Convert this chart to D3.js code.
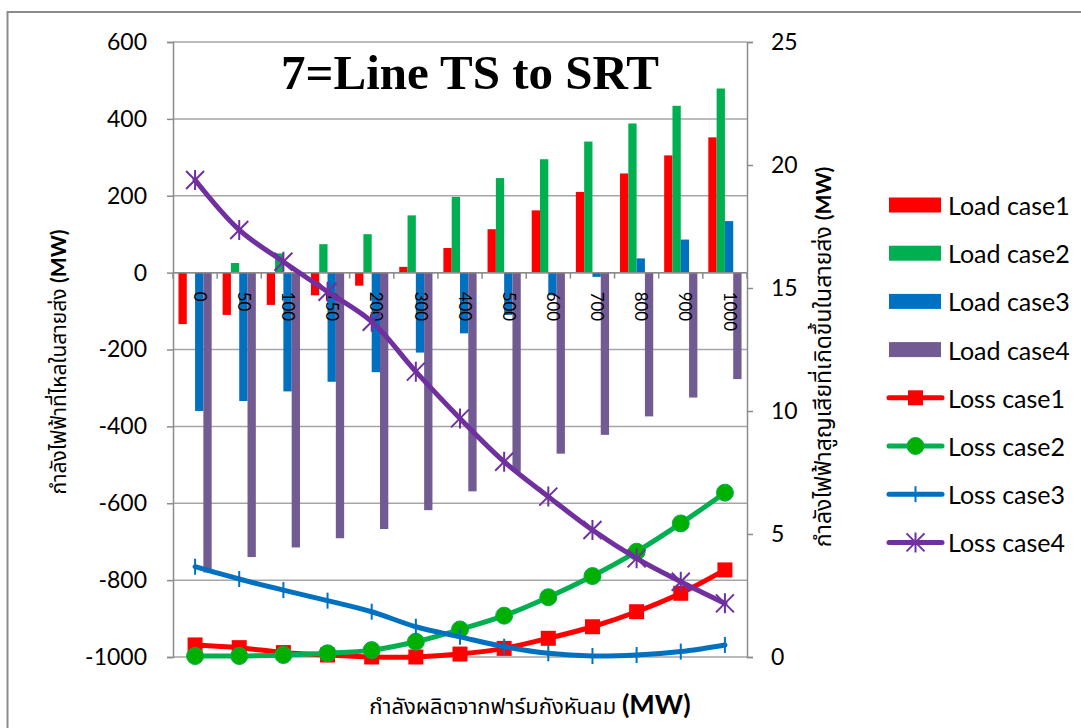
<!DOCTYPE html>
<html>
<head>
<meta charset="utf-8">
<script src="https://cdn.jsdelivr.net/npm/d3@7"></script>
<style>
  html, body { margin: 0; padding: 0; background: #fff; }
  svg { display: block; font-family: Lato, "Noto Sans", "Liberation Sans", sans-serif; }
</style>
</head>
<body>
<svg id="chart" width="1081" height="728"></svg>
<script>
// Wind-farm output (MW) along the category axis
const categories = ["0","50","100","150","200","300","400","500","600","700","800","900","1000"];

// Power flow in the line (MW), left axis
const loadCase1 = [-134,-110,-84,-59,-34,15,64,113,162,210,258,305,352];
const loadCase2 = [0,25,50,74,100,149,197,246,295,341,388,434,479];
const loadCase3 = [-360,-334,-309,-284,-259,-208,-158,-110,-59,-11,37,86,134];
const loadCase4 = [-780,-740,-715,-691,-667,-618,-569,-518,-471,-422,-374,-325,-277];

// Line losses (MW), right axis
const lossCase1 = [0.49,0.38,0.18,0.08,0.0,0.0,0.12,0.35,0.76,1.23,1.84,2.59,3.54];
const lossCase2 = [0.04,0.04,0.08,0.15,0.28,0.62,1.12,1.68,2.43,3.29,4.28,5.43,6.68];
const lossCase3 = [3.67,3.17,2.72,2.29,1.84,1.23,0.82,0.42,0.15,0.04,0.08,0.22,0.49];
const lossCase4 = [19.39,17.36,16.07,14.85,13.63,11.6,9.7,7.94,6.52,5.16,4.01,3.06,2.18];

const leftTicks = [600,400,200,0,-200,-400,-600,-800,-1000];
const rightTicks = [25,20,15,10,5,0];

const barSeries = [
  { name: "Load case1", values: loadCase1, color: "#FF0000" },
  { name: "Load case2", values: loadCase2, color: "#00B050" },
  { name: "Load case3", values: loadCase3, color: "#0070C0" },
  { name: "Load case4", values: loadCase4, color: "#725A93" }
];
const lineSeries = [
  { name: "Loss case1", values: lossCase1, color: "#FF0000", marker: "square" },
  { name: "Loss case2", values: lossCase2, color: "#00B050", marker: "circle" },
  { name: "Loss case3", values: lossCase3, color: "#0070C0", marker: "plus" },
  { name: "Loss case4", values: lossCase4, color: "#7030A0", marker: "star" }
];

const svg = d3.select("#chart");
const plot = { left: 173, right: 747, top: 42, bottom: 657 };
const gridColor = "#A6A6A6";
const axisColor = "#8C8C8C";
const sansFont = "Lato, 'Noto Sans', sans-serif";
const thaiFont = "'Noto Sans Thai', 'Noto Sans', Lato, sans-serif";

// outer frame of the chart object
svg.append("rect")
  .attr("x", 7.5).attr("y", 12).attr("width", 1200).attr("height", 800)
  .attr("fill", "none").attr("stroke", axisColor).attr("stroke-width", 2);

const x = d3.scaleBand().domain(categories).range([plot.left, plot.right]).padding(0);
const xs = d3.scaleBand().domain(barSeries.map(s => s.name))
  .range([0, x.bandwidth()]).paddingInner(0).paddingOuter(0.66);
const yL = d3.scaleLinear().domain([-1000, 600]).range([plot.bottom, plot.top]);
const yR = d3.scaleLinear().domain([0, 25]).range([plot.bottom, plot.top]);

// horizontal gridlines
svg.append("g").selectAll("line").data(leftTicks).join("line")
  .attr("x1", plot.left).attr("x2", plot.right)
  .attr("y1", d => yL(d)).attr("y2", d => yL(d))
  .attr("stroke", gridColor).attr("stroke-width", 1.5);

// left axis
const leftAxis = svg.append("g").attr("transform", `translate(${plot.left},0)`)
  .call(d3.axisLeft(yL).tickValues(leftTicks).tickFormat(d => String(d)).tickSize(6).tickPadding(20));
leftAxis.select(".domain").attr("stroke", axisColor).attr("stroke-width", 1.5);
leftAxis.selectAll(".tick line").attr("stroke", axisColor).attr("stroke-width", 1.5);
leftAxis.selectAll(".tick text").style("font-size", "23px").style("font-family", sansFont).attr("fill", "#000");

// right axis
const rightAxis = svg.append("g").attr("transform", `translate(${plot.right},0)`)
  .call(d3.axisRight(yR).tickValues(rightTicks).tickFormat(d => String(d)).tickSize(6).tickPadding(18));
rightAxis.select(".domain").attr("stroke", axisColor).attr("stroke-width", 1.5);
rightAxis.selectAll(".tick line").attr("stroke", axisColor).attr("stroke-width", 1.5);
rightAxis.selectAll(".tick text").style("font-size", "23px").style("font-family", sansFont).attr("fill", "#000");

// bars
const barG = svg.append("g");
barSeries.forEach(s => {
  barG.append("g").selectAll("rect").data(s.values).join("rect")
    .attr("x", (d, i) => x(categories[i]) + xs(s.name))
    .attr("width", xs.bandwidth())
    .attr("y", d => Math.min(yL(d), yL(0)))
    .attr("height", d => Math.abs(yL(d) - yL(0)))
    .attr("fill", s.color);
});

// category axis along the zero line
const zeroY = yL(0);
svg.append("line").attr("x1", plot.left).attr("x2", plot.right)
  .attr("y1", zeroY).attr("y2", zeroY).attr("stroke", axisColor).attr("stroke-width", 1.5);
const bounds = categories.map(c => x(c)).concat([plot.right]);
svg.append("g").selectAll("line").data(bounds).join("line")
  .attr("x1", d => d).attr("x2", d => d)
  .attr("y1", zeroY).attr("y2", zeroY + 6)
  .attr("stroke", axisColor).attr("stroke-width", 1.5);
svg.append("g").selectAll("text").data(categories).join("text")
  .attr("transform", c => `translate(${x(c) + x.bandwidth() / 2 + 3},${zeroY + 19}) rotate(90)`)
  .attr("text-anchor", "start")
  .attr("dominant-baseline", "middle")
  .style("font-family", sansFont)
  .style("font-size", "17px")
  .text(c => c);

// lines with markers
const markerPath = {
  square: "M-7.5,-7.5H7.5V7.5H-7.5Z",
  plus: "M0,-8V8",
  star: "M-9,-9L9,9M-9,9L9,-9M0,-10V10"
};
function drawMarker(g, type, color) {
  if (type === "circle") {
    g.append("circle").attr("r", 8.5).attr("fill", "#00B000").attr("stroke", "#00B050").attr("stroke-width", 1);
  } else if (type === "square") {
    g.append("path").attr("d", markerPath.square).attr("fill", color);
  } else {
    g.append("path").attr("d", markerPath[type]).attr("fill", "none")
      .attr("stroke", color).attr("stroke-width", 2);
  }
}
const line = d3.line()
  .x((d, i) => x(categories[i]) + x.bandwidth() / 2)
  .y(d => yR(d))
  .curve(d3.curveCatmullRom.alpha(0.5));
lineSeries.forEach(s => {
  const g = svg.append("g");
  g.append("path").datum(s.values).attr("d", line)
    .attr("fill", "none").attr("stroke", s.color).attr("stroke-width", 5)
    .attr("stroke-linejoin", "round").attr("stroke-linecap", "round");
  s.values.forEach((v, i) => {
    const m = g.append("g").attr("transform", `translate(${x(categories[i]) + x.bandwidth() / 2},${yR(v)})`);
    drawMarker(m, s.marker, s.color);
  });
});

// title
svg.append("text")
  .attr("x", 470).attr("y", 89)
  .attr("text-anchor", "middle")
  .style("font-family", "'Liberation Serif', 'Times New Roman', serif")
  .style("font-weight", "bold")
  .style("font-size", "49px")
  .text("7=Line TS to SRT");

// axis titles
function axisTitle(x0, y0, rot, thai, thaiSize, mwSize) {
  const t = svg.append("text")
    .attr("transform", `translate(${x0},${y0}) rotate(${rot})`)
    .attr("text-anchor", "middle");
  t.append("tspan").style("font-size", thaiSize + "px").style("font-family", thaiFont).text(thai + " ");
  t.append("tspan").style("font-size", mwSize + "px").style("font-weight", "bold").style("font-family", sansFont).text("(MW)");
}
axisTitle(66, 362, -90, "กำลังไฟฟ้าที่ไหลในสายส่ง", 21, 21);
axisTitle(831, 357, -90, "กำลังไฟฟ้าสูญเสียที่เกิดขึ้นในสายส่ง", 23, 21);
{
  const t = svg.append("text").attr("x", 530).attr("y", 714).attr("text-anchor", "middle");
  t.append("tspan").style("font-size", "22px").style("font-family", thaiFont).text("กำลังผลิตจากฟาร์มกังหันลม ");
  t.append("tspan").style("font-size", "27px").style("font-weight", "bold").style("font-family", sansFont).text("(MW)");
}

// legend
const legendItems = barSeries.map(s => ({ ...s, kind: "bar" }))
  .concat(lineSeries.map(s => ({ ...s, kind: "line" })));
const lg = svg.append("g");
legendItems.forEach((s, i) => {
  const cy = 205 + i * 48.2;
  const g = lg.append("g").attr("transform", `translate(0,${cy})`);
  if (s.kind === "bar") {
    g.append("rect").attr("x", 889).attr("y", -7.5).attr("width", 52).attr("height", 15).attr("fill", s.color);
  } else {
    g.append("line").attr("x1", 889).attr("x2", 942).attr("y1", 0).attr("y2", 0)
      .attr("stroke", s.color).attr("stroke-width", 5).attr("stroke-linecap", "round");
    const m = g.append("g").attr("transform", "translate(915.5,0)");
    drawMarker(m, s.marker, s.color);
  }
  g.append("text").attr("x", 948).attr("y", 0).attr("dominant-baseline", "central")
    .style("font-family", sansFont).style("font-size", "25px").text(s.name);
});
</script>
</body>
</html>
